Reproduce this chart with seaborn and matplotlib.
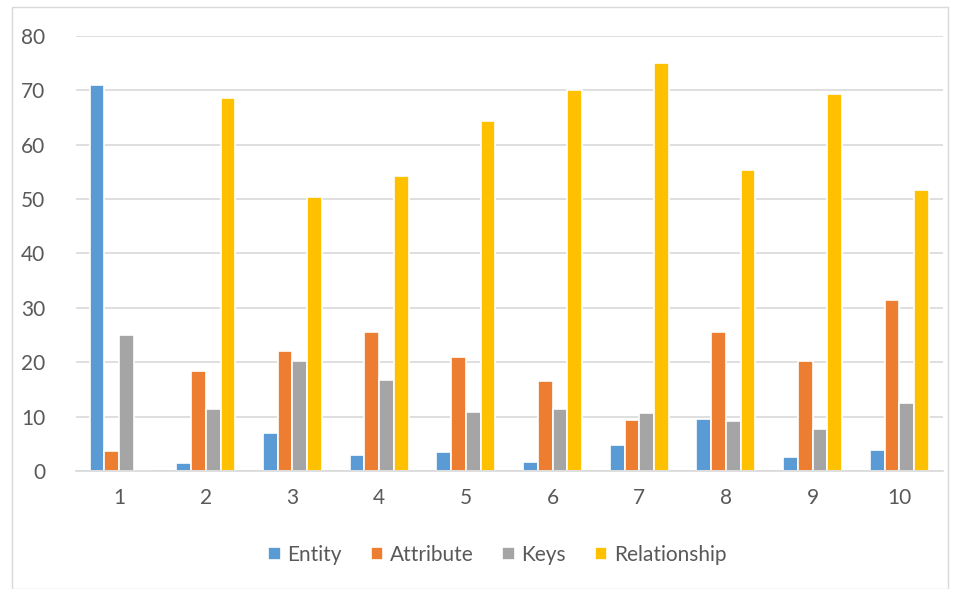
import matplotlib
matplotlib.use("Agg")
import matplotlib.pyplot as plt
import seaborn as sns
import pandas as pd
from matplotlib.patches import Rectangle

categories = ["1", "2", "3", "4", "5", "6", "7", "8", "9", "10"]
entity = [71.0, 1.4, 6.9, 2.9, 3.5, 1.6, 4.7, 9.6, 2.6, 3.9]
attribute = [3.7, 18.3, 22.1, 25.5, 20.9, 16.6, 9.3, 25.5, 20.2, 31.4]
keys = [25.0, 11.4, 20.2, 16.8, 10.8, 11.4, 10.6, 9.2, 7.7, 12.5]
relationship = [0.0, 68.5, 50.4, 54.3, 64.4, 70.0, 75.0, 55.4, 69.3, 51.7]
series_names = ["Entity", "Attribute", "Keys", "Relationship"]
colors = ["#5B9BD5", "#ED7D31", "#A5A5A5", "#FFC000"]

rows = []
for name, vals in zip(series_names, [entity, attribute, keys, relationship]):
    for c, v in zip(categories, vals):
        rows.append({"cat": c, "series": name, "value": v})
df = pd.DataFrame(rows)

sns.set_theme(style="white")
plt.rcParams['font.family'] = ['Lato', 'DejaVu Sans']

fig = plt.figure(figsize=(9.6, 5.89), dpi=100)
ax = fig.add_axes([0.0789, 0.2003, 0.9031, 0.7391])

sns.barplot(data=df, x="cat", y="value", hue="series", order=categories,
            hue_order=series_names, palette=colors, saturation=1, width=0.68,
            edgecolor="white", linewidth=1.2, ax=ax, legend=True, gap=0)

ax.set_ylim(0, 80)
ax.set_xlim(-0.5, 9.5)
ax.set_yticks(range(0, 81, 10))
ax.yaxis.grid(True, color="#D9D9D9", linewidth=1.2)
ax.set_axisbelow(True)
for s in ["top", "right", "left"]:
    ax.spines[s].set_visible(False)
ax.spines["bottom"].set_color("#D9D9D9")
ax.spines["bottom"].set_linewidth(1.2)
ax.set_xlabel("")
ax.set_ylabel("")
ax.tick_params(axis="both", length=0, labelsize=15, labelcolor="#595959")
ax.tick_params(axis="y", pad=22)
ax.tick_params(axis="x", pad=12)

handles, labels = ax.get_legend_handles_labels()
ax.get_legend().remove()
fig.legend(handles, labels, loc="center", bbox_to_anchor=(0.518, 0.058),
           ncol=4, frameon=False, fontsize=15, handlelength=0.6,
           handleheight=0.6, handletextpad=0.3, columnspacing=1.4,
           labelcolor="#595959")

fig.patches.append(Rectangle((12/960, 0), (948-12)/960, (589-7)/589,
                             transform=fig.transFigure, fill=False,
                             edgecolor="#D9D9D9", linewidth=1.0))

fig.savefig("out.png", dpi=100)
